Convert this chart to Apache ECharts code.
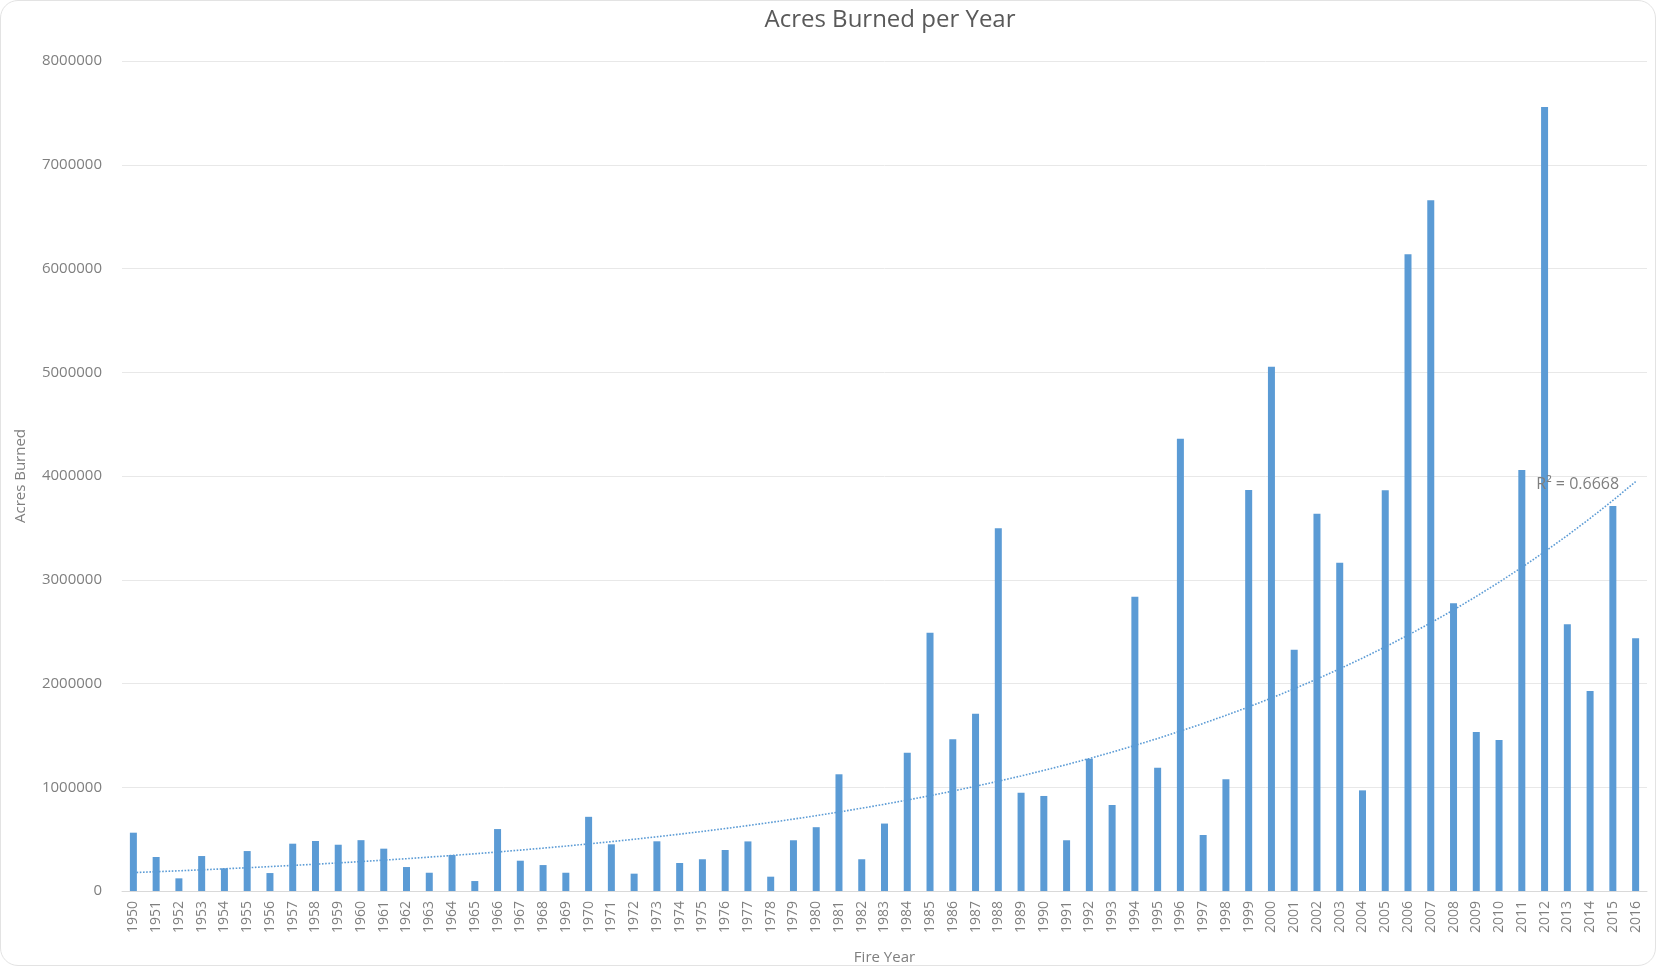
<!DOCTYPE html>
<html>
<head>
<meta charset="utf-8">
<script src="https://cdn.jsdelivr.net/npm/echarts@6/dist/echarts.min.js"></script>
<style>
html,body{margin:0;padding:0;background:#fff;}
#frame{position:absolute;left:0;top:0;width:1654px;height:964px;border:1px solid #e3e3e3;border-radius:18px;box-sizing:content-box;}
#chart{position:absolute;left:0;top:0;width:1656px;height:966px;}
</style>
</head>
<body>
<div id="frame"></div>
<div id="chart"></div>
<script>
const years = [];
for (let y = 1950; y <= 2016; y++) years.push(String(y));

const acresBurned = [
  562000, 328000, 122000, 337000, 219000, 385000, 173000, 456000, 482000, 446000,
  490000, 408000, 231000, 176000, 347000, 96000, 597000, 292000, 250000, 176000,
  715000, 450000, 167000, 479000, 270000, 306000, 395000, 478000, 138000, 489000,
  615000, 1125000, 306000, 650000, 1333000, 2490000, 1462000, 1709000, 3497000, 947000,
  916000, 489000, 1275000, 829000, 2837000, 1188000, 4360000, 540000, 1077000, 3865000,
  5053000, 2326000, 3637000, 3165000, 970000, 3862000, 6137000, 6657000, 2773000, 1533000,
  1455000, 4058000, 7557000, 2570000, 1928000, 3711000, 2436000
];

const yTicks = [0, 1000000, 2000000, 3000000, 4000000, 5000000, 6000000, 7000000, 8000000];
const rSquaredText = 'R² = 0.6668';

// Exponential trendline (least squares on ln y), as in the spreadsheet
function expTrend(vals) {
  const n = vals.length;
  let sx = 0, sy = 0, sxx = 0, sxy = 0;
  for (let i = 0; i < n; i++) {
    const x = i + 1, ly = Math.log(vals[i]);
    sx += x; sy += ly; sxx += x * x; sxy += x * ly;
  }
  const b = (n * sxy - sx * sy) / (n * sxx - sx * sx);
  const a = (sy - b * sx) / n;
  return vals.map((v, i) => Math.exp(a + b * (i + 1)));
}
const trend = expTrend(acresBurned);
const lastIdx = trend.length - 1;

const chart = echarts.init(document.getElementById('chart'));
chart.setOption({
  animation: false,
  backgroundColor: 'transparent',
  title: {
    text: 'Acres Burned per Year',
    left: 885,
    textAlign: 'center',
    top: 3,
    textStyle: { color: '#595959', fontSize: 24, fontWeight: 'normal', fontFamily: 'Open Sans' }
  },
  grid: { left: 122, right: 9, top: 61, bottom: 75, containLabel: false, outerBoundsMode: 'none' },
  xAxis: {
    type: 'category',
    data: years,
    name: 'Fire Year',
    nameLocation: 'middle',
    nameGap: 59,
    nameTextStyle: { color: '#7f7f7f', fontSize: 15, fontFamily: 'Open Sans' },
    axisLine: { lineStyle: { color: '#d9d9d9', width: 1 } },
    axisTick: { show: false },
    axisLabel: { interval: 0, rotate: 90, margin: 10, color: '#7f7f7f', fontSize: 14, fontFamily: 'Open Sans' }
  },
  yAxis: {
    type: 'value',
    min: yTicks[0],
    max: yTicks[yTicks.length - 1],
    interval: 1000000,
    name: 'Acres Burned',
    nameLocation: 'middle',
    nameGap: 94,
    nameTextStyle: { color: '#7f7f7f', fontSize: 15, fontFamily: 'Open Sans' },
    axisLine: { show: false },
    axisTick: { show: false },
    axisLabel: { margin: 20, color: '#7f7f7f', fontSize: 15, fontFamily: 'Open Sans', formatter: v => String(v) },
    splitLine: { lineStyle: { color: '#e8e8e8', width: 1 } }
  },
  series: [
    {
      name: 'Acres Burned',
      type: 'bar',
      data: acresBurned,
      barWidth: 7,
      itemStyle: { color: '#5b9bd5' }
    },
    {
      name: 'Trend',
      type: 'line',
      data: trend,
      symbol: 'none',
      smooth: false,
      z: 5,
      lineStyle: { color: '#5b9bd5', width: 1.6, type: 'dotted' },
      markPoint: {
        symbol: 'circle',
        symbolSize: 1,
        itemStyle: { color: 'rgba(0,0,0,0)' },
        label: { show: true, formatter: rSquaredText, position: 'left', distance: 16, offset: [0, 3], color: '#7f7f7f', fontSize: 16, fontFamily: 'Open Sans' },
        data: [{ coord: [years[lastIdx], trend[lastIdx]] }]
      }
    }
  ]
});
</script>
</body>
</html>
